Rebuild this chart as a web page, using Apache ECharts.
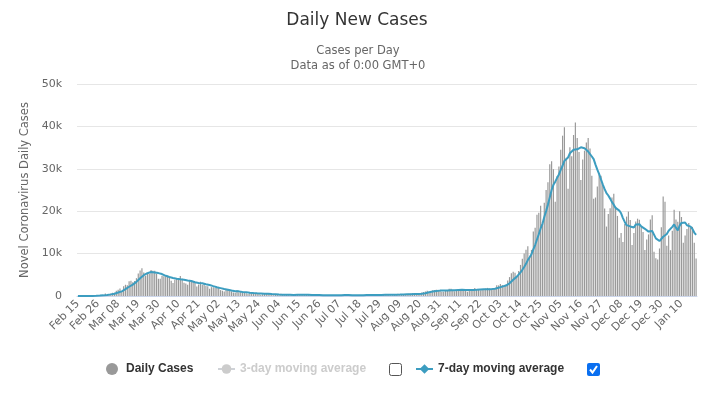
<!DOCTYPE html>
<html>
<head>
<meta charset="utf-8">
<script src="https://cdn.jsdelivr.net/npm/echarts@6/dist/echarts.min.js"></script>
<style>
html,body{margin:0;padding:0;background:#fff;}
#chart{width:726px;height:393px;}
</style>
</head>
<body>
<div id="chart"></div>
<script>
// Daily new cases, Feb 15 2020 .. Jan 18 2021
const dailyCases = [
0,0,0,0,0,0,17,62,76,69,93,78,250,238,240,
566,342,466,587,769,778,1247,1492,1797,977,2313,2651,2547,3497,3590,3233,3526,4207,5322,5986,6557,5560,4789,5249,5210,6153,5959,5974,5217,4050,4053,
4782,4668,4585,4805,4316,3599,3039,3836,4204,3951,4694,4092,3153,2972,2667,3786,3493,3491,3047,2256,2729,3370,2646,3021,2357,2324,1739,2091,2086,1872,
1965,1900,1389,1221,1075,1444,1401,1327,1083,802,744,1402,888,992,789,875,675,451,813,665,642,652,669,531,300,397,584,593,516,416,355,
178,318,321,177,518,270,197,280,283,202,379,163,346,338,301,210,328,333,251,262,224,218,122,190,296,259,175,174,126,142,
187,201,223,235,192,208,138,193,229,276,188,234,169,114,162,230,233,249,219,190,129,282,306,252,275,255,170,181,212,289,386,
379,295,239,159,190,384,402,552,347,463,259,412,481,523,574,629,479,320,403,642,845,947,1071,1210,953,878,1367,1411,1460,1444,1365,
996,978,1326,1397,1733,1695,1297,1108,1370,1434,1597,1616,1501,1456,1008,1229,1452,1585,1907,1638,1587,1350,1392,1640,1786,1912,1766,1494,1648,1851,
2548,2499,2844,2578,2257,2677,3678,4458,5372,5724,5456,4619,5901,7332,8804,10010,10925,11705,9338,10874,15199,16079,19143,19644,21273,17012,21994,24991,26831,31084,31758,
29907,22253,28244,30550,34505,37809,39811,32616,25271,35098,32961,37978,40902,37255,33979,27354,32191,34283,36176,37242,34767,28337,22930,23232,25853,29003,28352,26323,20648,16377,
19350,20709,23225,24099,21052,18887,13720,14842,12756,16999,18727,19903,17938,12030,14844,17572,18236,17992,16308,15104,10872,13318,14522,18040,19037,10407,8913,8585,11212,16202,23477,
22211,11831,14245,10800,15378,20331,18020,17533,19978,18627,12532,14242,15774,17246,16146,16310,12545,8825
];

// 7-day moving average
const movingAvg7 = [
0,0,0,0,0,0,2,11,22,32,45,56,92,124,149,
219,258,311,384,458,535,679,812,1019,1092,1339,1608,1861,2182,2482,2687,3051,3322,3703,4194,4632,4913,5135,5381,5525,5643,5640,5556,5507,5402,5231,
5170,4958,4761,4594,4466,4401,4256,4121,4055,3964,3948,3916,3853,3843,3676,3616,3551,3379,3230,3102,3067,3167,3005,2937,2775,2672,2598,2507,2323,2213,
2062,1997,1863,1789,1644,1552,1485,1394,1277,1193,1125,1172,1092,1034,957,927,909,867,783,751,701,682,652,632,610,551,539,532,513,477,452,
434,423,385,326,326,305,283,297,292,275,304,253,264,284,287,277,295,288,301,289,273,261,248,229,223,224,212,205,192,195,
194,181,175,184,187,198,198,199,203,210,203,209,204,200,196,196,190,199,197,200,202,219,230,232,236,241,238,246,236,233,253,
267,273,283,280,277,290,293,317,325,357,371,403,417,434,437,477,480,488,487,510,556,609,672,777,867,935,1039,1120,1193,1246,1268,
1274,1289,1283,1281,1320,1356,1346,1362,1418,1433,1462,1445,1418,1440,1426,1406,1408,1407,1448,1468,1487,1535,1559,1586,1614,1615,1633,1620,1663,1728,
1858,1960,2093,2209,2318,2465,2726,2999,3409,3821,4232,4569,5030,5552,6173,6835,7578,8471,9145,9855,10979,12019,13323,14569,15936,17032,18621,20019,21555,23261,24992,
26225,26974,27867,28661,29757,30718,31868,32255,32687,33666,34010,34506,34948,34583,34778,35075,34660,34849,34591,34069,33713,32907,32275,30995,29791,28766,27496,26290,25192,24255,
23701,22966,22141,21533,20780,20528,20149,19505,18369,17479,16712,16548,16412,16171,16171,16859,17036,16931,16417,16012,15847,15629,15193,15165,15314,14471,13587,13260,12959,13199,13976,
14430,14633,15395,15711,16306,16896,16117,15448,16612,17238,17486,17323,16672,16562,16364,15840,14971,14441
];

// 3-day moving average is switched off in the legend (no data drawn)
const movingAvg3 = [];

const monthNames = ['Jan','Feb','Mar','Apr','May','Jun','Jul','Aug','Sep','Oct','Nov','Dec'];
const startDate = Date.UTC(2020, 1, 15);
const categories = [];
for (let i = 0; i < dailyCases.length; i++) {
  const d = new Date(startDate + i * 86400000);
  categories.push(monthNames[d.getUTCMonth()] + ' ' + String(d.getUTCDate()).padStart(2, '0'));
}

const yTicks = [0, 10000, 20000, 30000, 40000, 50000];

const chart = echarts.init(document.getElementById('chart'), null, {renderer: 'canvas'});
const legendText = {fontFamily: 'Liberation Sans', fontWeight: 'bold', fontSize: 12, color: '#333'};
chart.setOption({
  animation: false,
  backgroundColor: '#fff',
  title: [
    {text: 'Daily New Cases', left: 352, top: 6, textAlign: 'center',
     textStyle: {fontFamily: 'DejaVu Sans', fontSize: 17, fontWeight: 'normal', color: '#333', lineHeight: 20}},
    {text: 'Cases per Day\nData as of 0:00 GMT+0', left: 353, top: 38.5, textAlign: 'center',
     textStyle: {fontFamily: 'DejaVu Sans', fontSize: 11.5, fontWeight: 'normal', color: '#666', lineHeight: 15}}
  ],
  grid: {left: 77, right: 29, top: 84, bottom: 97},
  xAxis: {
    type: 'category',
    data: categories,
    boundaryGap: true,
    axisLine: {lineStyle: {color: '#ccd6eb'}},
    axisTick: {show: false},
    axisLabel: {interval: 10, rotate: 45, margin: 6, fontFamily: 'DejaVu Sans', fontSize: 11, color: '#666'}
  },
  yAxis: {
    type: 'value',
    min: yTicks[0], max: yTicks[yTicks.length - 1], interval: yTicks[1] - yTicks[0],
    name: 'Novel Coronavirus Daily Cases',
    nameLocation: 'middle', nameRotate: 90, nameGap: 45,
    nameTextStyle: {fontFamily: 'DejaVu Sans', fontSize: 11.5, color: '#666'},
    axisLine: {show: false}, axisTick: {show: false},
    splitLine: {lineStyle: {color: '#e6e6e6'}},
    axisLabel: {margin: 15, fontFamily: 'DejaVu Sans', fontSize: 11, color: '#666',
      formatter: v => v === 0 ? '0' : (v / 1000) + 'k'}
  },
  legend: [
    {data: ['Daily Cases'], left: 101, top: 358, itemWidth: 18, itemHeight: 12, icon: 'circle', textStyle: legendText},
    {data: ['3-day moving average'], left: 212, top: 358, itemWidth: 17, itemHeight: 12,
     selected: {'3-day moving average': false}, inactiveColor: '#ccc', textStyle: legendText},
    {data: ['7-day moving average'], left: 410, top: 358, itemWidth: 17, itemHeight: 12, textStyle: legendText}
  ],
  graphic: [
    {type: 'rect', shape: {x: 389.5, y: 363.5, width: 12, height: 12, r: 2},
     style: {fill: '#fff', stroke: '#555', lineWidth: 1}},
    {type: 'rect', shape: {x: 587, y: 363, width: 13, height: 13, r: 2},
     style: {fill: '#0a6ff0'}},
    {type: 'polyline', shape: {points: [[590, 369.5], [592.5, 372.5], [597, 366]]},
     style: {stroke: '#fff', lineWidth: 2, fill: null}}
  ],
  series: [
    {name: 'Daily Cases', type: 'bar', data: dailyCases, barWidth: '65%',
     itemStyle: {color: '#999'}, z: 1},
    {name: '3-day moving average', type: 'line', data: movingAvg3, symbol: 'circle', symbolSize: 6,
     showSymbol: false, itemStyle: {color: '#ccc'}, lineStyle: {color: '#ccc', width: 2}},
    {name: '7-day moving average', type: 'line', data: movingAvg7, symbol: 'diamond', symbolSize: 8,
     showSymbol: false, itemStyle: {color: '#3c9dc0'}, lineStyle: {color: '#3c9dc0', width: 2}, z: 3}
  ]
});
</script>
</body>
</html>
